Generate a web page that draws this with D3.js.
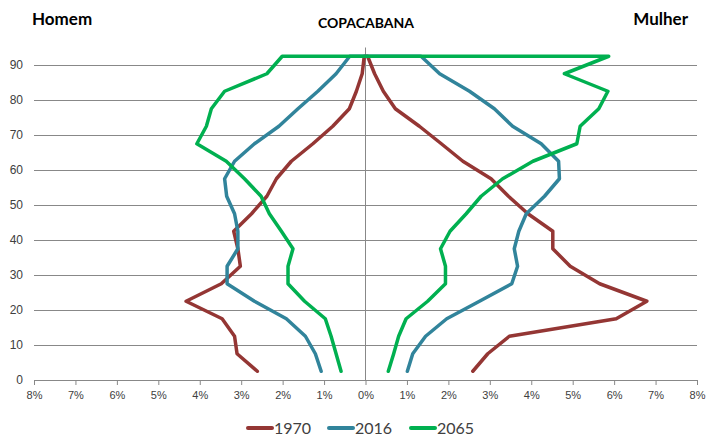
<!DOCTYPE html>
<html>
<head>
<meta charset="utf-8">
<script src="https://cdn.jsdelivr.net/npm/d3@7"></script>
<style>
  html, body { margin: 0; padding: 0; background: #fff; }
  svg { display: block; font-family: Lato, "Open Sans", sans-serif; }
</style>
</head>
<body>
<svg id="chart" width="707" height="438"></svg>
<script>
// Age group midpoints (0-4, 5-9, ..., 90+)
const ages = [2.5, 7.5, 12.5, 17.5, 22.5, 27.5, 32.5, 37.5, 42.5, 47.5, 52.5, 57.5, 62.5, 67.5, 72.5, 77.5, 82.5, 87.5, 92.5];

// Percent of population by age group (Homem = left, Mulher = right)
const male1970   = [2.61, 3.10, 3.16, 3.46, 4.33, 3.48, 3.02, 3.08, 3.18, 2.75, 2.38, 2.15, 1.79, 1.27, 0.79, 0.39, 0.22, 0.08, 0.03];
const female1970 = [2.59, 2.95, 3.47, 6.05, 6.79, 5.65, 4.94, 4.52, 4.52, 3.92, 3.45, 3.03, 2.35, 1.83, 1.30, 0.72, 0.43, 0.22, 0.05];
const male2016   = [1.07, 1.21, 1.45, 1.91, 2.68, 3.34, 3.34, 3.08, 3.08, 3.16, 3.35, 3.40, 3.16, 2.68, 2.09, 1.63, 1.15, 0.71, 0.38];
const female2016 = [1.01, 1.14, 1.45, 1.96, 2.75, 3.53, 3.67, 3.59, 3.70, 3.88, 4.32, 4.68, 4.66, 4.24, 3.55, 3.11, 2.51, 1.79, 1.34];
const male2065   = [0.59, 0.71, 0.83, 0.97, 1.47, 1.87, 1.87, 1.75, 2.03, 2.32, 2.52, 2.92, 3.36, 4.07, 3.84, 3.72, 3.40, 2.38, 2.01];
const female2065 = [0.55, 0.68, 0.80, 0.98, 1.50, 1.93, 1.93, 1.81, 2.04, 2.43, 2.79, 3.31, 4.04, 5.10, 5.18, 5.63, 5.85, 4.80, 5.87];

const years = ["1970", "2016", "2065"];
const colors = ["#943634", "#31849B", "#00B050"];
const xTicks = [-8, -7, -6, -5, -4, -3, -2, -1, 0, 1, 2, 3, 4, 5, 6, 7, 8];
const yTicks = [0, 10, 20, 30, 40, 50, 60, 70, 80, 90];

const seriesData = [
  { name: years[0], male: male1970, female: female1970 },
  { name: years[1], male: male2016, female: female2016 },
  { name: years[2], male: male2065, female: female2065 }
];

const svg = d3.select("#chart");
const plotLeft = 34, plotRight = 697, plotTop = 47.5, plotBottom = 380;

const x = d3.scaleLinear().domain([-8, 8]).range([plotLeft, plotRight]);
const y = d3.scaleLinear().domain([0, 95]).range([plotBottom, plotTop]);

const gridColor = "#888888";
const labelColor = "#404040";

// Horizontal gridlines + y labels
const yAxis = d3.axisLeft(y).tickValues(yTicks).tickSize(-(plotRight - plotLeft)).tickPadding(11).tickFormat(d3.format("d"));
const gy = svg.append("g").attr("transform", `translate(${plotLeft},0)`).call(yAxis);
gy.select(".domain").remove();
gy.selectAll(".tick line").attr("stroke", gridColor).attr("stroke-width", 1);
gy.selectAll(".tick text").attr("fill", labelColor).style("font-size", "12px");

// Vertical zero axis
svg.append("line")
  .attr("x1", x(0)).attr("x2", x(0))
  .attr("y1", plotTop).attr("y2", plotBottom)
  .attr("stroke", gridColor).attr("stroke-width", 1);

// X axis
const xAxis = d3.axisBottom(x).tickValues(xTicks).tickSize(5).tickPadding(6)
  .tickFormat(d => Math.abs(d) + "%");
const gx = svg.append("g").attr("transform", `translate(0,${plotBottom})`).call(xAxis);
gx.select(".domain").attr("stroke", gridColor);
gx.selectAll(".tick line").attr("stroke", gridColor);
gx.selectAll(".tick text").attr("fill", labelColor).style("font-size", "11px");

// Lines: male side bottom->top, then female side top->bottom
const line = d3.line().x(d => x(d[0])).y(d => y(d[1]));
seriesData.forEach((s, i) => {
  const pts = [];
  ages.forEach((a, k) => pts.push([-s.male[k], a]));
  for (let k = ages.length - 1; k >= 0; k--) pts.push([s.female[k], ages[k]]);
  svg.append("path")
    .datum(pts)
    .attr("d", line)
    .attr("fill", "none")
    .attr("stroke", colors[i])
    .attr("stroke-width", 3.5)
    .attr("stroke-linejoin", "round")
    .attr("stroke-linecap", "round");
});

// Titles
svg.append("text").attr("x", 32).attr("y", 25).text("Homem")
  .style("font-size", "17px").style("font-weight", "bold").attr("fill", "#000");
svg.append("text").attr("x", 688).attr("y", 25).attr("text-anchor", "end").text("Mulher")
  .style("font-size", "17px").style("font-weight", "bold").attr("fill", "#000");
svg.append("text").attr("x", 366).attr("y", 28).attr("text-anchor", "middle").text("COPACABANA")
  .style("font-size", "14px").style("font-weight", "bold").attr("fill", "#000");

// Legend
const legendX = [248, 329, 411];
const lg = svg.append("g");
years.forEach((yr, i) => {
  lg.append("line")
    .attr("x1", legendX[i]).attr("x2", legendX[i] + 24)
    .attr("y1", 428).attr("y2", 428)
    .attr("stroke", colors[i]).attr("stroke-width", 4).attr("stroke-linecap", "round");
  lg.append("text")
    .attr("x", legendX[i] + 26).attr("y", 434)
    .text(yr)
    .style("font-size", "16px").attr("fill", labelColor);
});
</script>
</body>
</html>
